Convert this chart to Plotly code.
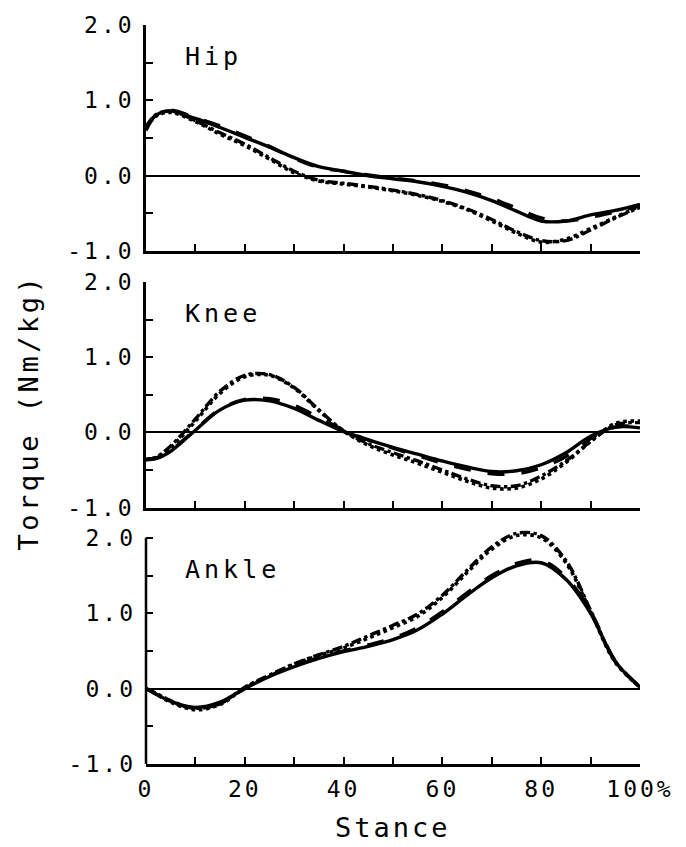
import plotly.graph_objects as go

stance = [0, 2, 5, 10, 15, 20, 25, 30, 35, 40, 45, 50, 55, 60, 65, 70, 75, 80, 85, 90, 95, 100]

hip_solid = [0.60, 0.80, 0.86, 0.76, 0.64, 0.51, 0.38, 0.24, 0.12, 0.06, 0.00, -0.04, -0.08, -0.14, -0.22, -0.33, -0.47, -0.60, -0.60, -0.52, -0.46, -0.38]
hip_dash = [0.62, 0.81, 0.87, 0.77, 0.66, 0.53, 0.39, 0.23, 0.11, 0.06, 0.01, -0.03, -0.07, -0.12, -0.20, -0.30, -0.43, -0.56, -0.60, -0.55, -0.48, -0.40]
hip_dashdot = [0.65, 0.81, 0.86, 0.73, 0.57, 0.42, 0.24, 0.06, -0.06, -0.10, -0.14, -0.19, -0.25, -0.33, -0.44, -0.58, -0.74, -0.86, -0.86, -0.72, -0.56, -0.42]
hip_dot = [0.63, 0.79, 0.84, 0.72, 0.55, 0.40, 0.22, 0.04, -0.07, -0.11, -0.15, -0.20, -0.26, -0.34, -0.45, -0.60, -0.76, -0.88, -0.84, -0.70, -0.55, -0.40]

knee_solid = [-0.36, -0.35, -0.25, 0.03, 0.30, 0.43, 0.42, 0.32, 0.16, 0.01, -0.10, -0.20, -0.29, -0.38, -0.46, -0.52, -0.51, -0.43, -0.27, -0.05, 0.07, 0.06]
knee_dash = [-0.36, -0.34, -0.24, 0.04, 0.31, 0.44, 0.45, 0.36, 0.20, 0.03, -0.10, -0.21, -0.31, -0.41, -0.49, -0.55, -0.55, -0.47, -0.32, -0.08, 0.07, 0.08]
knee_dashdot = [-0.36, -0.33, -0.18, 0.18, 0.55, 0.76, 0.77, 0.60, 0.30, 0.02, -0.15, -0.27, -0.38, -0.50, -0.62, -0.71, -0.71, -0.58, -0.38, -0.12, 0.10, 0.13]
knee_dot = [-0.36, -0.34, -0.20, 0.15, 0.52, 0.74, 0.76, 0.59, 0.29, 0.02, -0.17, -0.30, -0.41, -0.53, -0.65, -0.74, -0.74, -0.62, -0.40, -0.12, 0.12, 0.15]

ankle_solid = [0.00, -0.07, -0.17, -0.25, -0.18, 0.00, 0.16, 0.29, 0.40, 0.49, 0.56, 0.65, 0.78, 0.99, 1.24, 1.47, 1.63, 1.67, 1.45, 1.00, 0.36, 0.02]
ankle_dash = [0.00, -0.07, -0.17, -0.26, -0.19, 0.00, 0.17, 0.30, 0.41, 0.50, 0.58, 0.67, 0.81, 1.02, 1.27, 1.50, 1.66, 1.70, 1.48, 1.02, 0.37, 0.02]
ankle_dashdot = [0.00, -0.06, -0.16, -0.26, -0.20, 0.02, 0.18, 0.33, 0.45, 0.56, 0.70, 0.84, 0.99, 1.24, 1.57, 1.88, 2.06, 2.03, 1.70, 1.04, 0.36, 0.02]
ankle_dot = [0.00, -0.07, -0.18, -0.28, -0.21, 0.01, 0.17, 0.32, 0.44, 0.54, 0.67, 0.81, 0.96, 1.21, 1.54, 1.85, 2.03, 2.00, 1.67, 1.02, 0.35, 0.02]

panel_names = ["Hip", "Knee", "Ankle"]
y_tickvals = [-1.0, -0.5, 0.0, 0.5, 1.0, 1.5, 2.0]
y_ticktext = ["-1.0", "", "0.0", "", "1.0", "", "2.0"]
x_tickvals = [0, 10, 20, 30, 40, 50, 60, 70, 80, 90, 100]
x_ticktext = ["0", "", "20", "", "40", "", "60", "", "80", "", "100%"]


def spaced(t, px):
    if not t:
        return t
    return '<span style="letter-spacing:%spx">%s</span>' % (px, t)


FONT = "DejaVu Sans Mono"
panels = [
    (hip_solid, hip_dash, hip_dashdot, hip_dot),
    (knee_solid, knee_dash, knee_dashdot, knee_dot),
    (ankle_solid, ankle_dash, ankle_dashdot, ankle_dot),
]
dashes = ["solid", "longdash", "dashdot", "dot"]
widths = [3.4, 3.4, 3.4, 3.6]
# y range top per panel (ankle slightly extended so the peak is not clipped)
y_tops = [2.0, 2.0, 2.12]
px_per_unit = 75.6
fig_plot_h = 742.0
domains = [[0.694, 1.0], [0.347, 0.652], [0.0, 0.306 + 0.12 * px_per_unit / fig_plot_h]]

fig = go.Figure()
for i, series in enumerate(panels):
    n = "" if i == 0 else str(i + 1)
    for vals, d, w in zip(series, dashes, widths):
        fig.add_trace(go.Scatter(
            x=stance, y=vals, mode="lines", xaxis="x" + n, yaxis="y" + n,
            line=dict(color="black", width=w, dash=d, shape="spline", smoothing=1.0),
            showlegend=False, hoverinfo="skip"))
    last = i == 2
    fig.layout["xaxis" + n] = dict(
        domain=[0, 1], anchor="y" + n, range=[0, 100],
        showgrid=False, zeroline=False,
        showline=True, linecolor="black", linewidth=2.5,
        ticks="inside", ticklen=7, tickwidth=2, tickcolor="black",
        tickvals=x_tickvals,
        ticktext=[spaced(t, 3) for t in x_ticktext] if last else [""] * len(x_tickvals),
        showticklabels=last,
        tickfont=dict(family=FONT, size=23, color="black"),
        ticklabelstandoff=3,
    )
    fig.layout["yaxis" + n] = dict(
        domain=domains[i], anchor="x" + n, range=[-1.0, y_tops[i]],
        showgrid=False, zeroline=True, zerolinecolor="black", zerolinewidth=2,
        showline=not last, linecolor="black", linewidth=2.5,
        ticks="inside", ticklen=7, tickwidth=2, tickcolor="black",
        tickvals=y_tickvals, ticktext=[spaced(t, 3) for t in y_ticktext],
        tickfont=dict(family=FONT, size=23, color="black"),
        ticklabelstandoff=9 if last else 4,
    )
    if last:
        fig.add_shape(type="line", xref="x" + n + " domain", yref="y" + n,
                      x0=0, x1=0, y0=-1.0, y1=2.0,
                      line=dict(color="black", width=2.5), layer="above")
    fig.add_annotation(x=7.5, y=1.58, xref="x" + n, yref="y" + n,
                       text=spaced(panel_names[i], 4), showarrow=False,
                       xanchor="left", yanchor="middle",
                       font=dict(family=FONT, size=25, color="black"))

fig.add_annotation(x=0.5, y=-0.086, xref="paper", yref="paper", text=spaced("Stance", 3),
                   showarrow=False, xanchor="center", yanchor="middle",
                   font=dict(family=FONT, size=27, color="black"))
fig.add_annotation(x=-0.237, y=0.477, xref="paper", yref="paper",
                   text=spaced("Torque (Nm/kg)", 3.5),
                   showarrow=False, textangle=-90, xanchor="center", yanchor="middle",
                   font=dict(family=FONT, size=27, color="black"))

fig.update_layout(
    width=686, height=847,
    margin=dict(l=146, r=46, t=22, b=83),
    plot_bgcolor="white", paper_bgcolor="white",
)
fig.write_html("out.html", config={"displayModeBar": False},
               post_script="document.body.style.margin='0';document.body.style.overflow='hidden';")
